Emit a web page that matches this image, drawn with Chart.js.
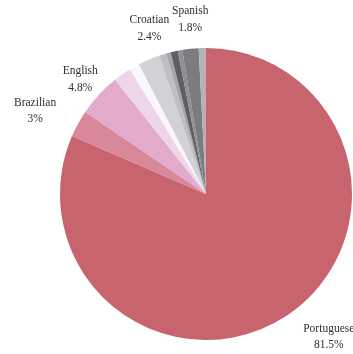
<!DOCTYPE html>
<html>
<head>
<meta charset="utf-8">
<script src="https://cdn.jsdelivr.net/npm/chart.js@4/dist/chart.umd.min.js"></script>
<style>
  html, body { margin: 0; padding: 0; background: #ffffff; }
  #wrap { width: 353px; height: 354px; }
</style>
</head>
<body>
<div id="wrap"><canvas id="c" width="353" height="354"></canvas></div>
<script>
// ---- data ----
const categories = ["Portuguese", "Brazilian", "English", "Other A", "Other B", "Croatian",
                    "Other C", "Other D", "Other E", "Other F", "Spanish", "Other G"];
const shares = [81.5, 3, 4.8, 2.0, 1.1, 2.4, 0.8, 0.5, 0.8, 0.5, 1.8, 0.8];
const shownNames = ["Portuguese", "Brazilian", "English", "", "", "Croatian",
                    "", "", "", "", "Spanish", ""];
const shownPercents = ["81.5%", "3%", "4.8%", "", "", "2.4%", "", "", "", "", "1.8%", ""];

// ---- styles ----
const sliceColors = ["#c8646e", "#d9889c", "#e2aacb", "#eed6ea", "#faf6fa", "#d2d2d6",
                     "#bfbfc3", "#a5a5aa", "#5e5e63", "#8f8f94", "#7b7b80", "#b3b3b7"];
const labelNudge = {
  "Portuguese": [22, -3],
  "Brazilian": [-14, 1],
  "English": [3, 4],
  "Croatian": [13, -5],
  "Spanish": [3, -1]
};

const outsideLabels = {
  id: 'outsideLabels',
  afterDatasetsDraw(chart) {
    const ctx = chart.ctx;
    const meta = chart.getDatasetMeta(0);
    ctx.save();
    ctx.font = '11.5px "Liberation Serif", "DejaVu Serif", serif';
    ctx.fillStyle = '#2e2e2e';
    ctx.textAlign = 'center';
    ctx.textBaseline = 'middle';
    const lineH = 16.5;
    meta.data.forEach((arc, i) => {
      const name = shownNames[i];
      if (!name) return;
      const p = arc.getProps(['x', 'y', 'startAngle', 'endAngle', 'outerRadius'], true);
      const mid = (p.startAngle + p.endAngle) / 2;
      const dx = Math.cos(mid), dy = Math.sin(mid);
      const ax = p.x + dx * (p.outerRadius + 12);
      const ay = p.y + dy * (p.outerRadius + 12);
      const lines = [name, shownPercents[i]];
      const w = Math.max(...lines.map(t => ctx.measureText(t).width));
      const halfW = w / 2, halfH = lineH * lines.length / 2;
      const nud = labelNudge[name] || [0, 0];
      const cx = ax + dx * halfW + nud[0];
      const cy = ay + dy * halfH + nud[1];
      lines.forEach((t, k) => {
        ctx.fillText(t, cx, cy - halfH + lineH * (k + 0.5));
      });
    });
    ctx.restore();
  }
};

new Chart(document.getElementById('c'), {
  type: 'pie',
  data: {
    labels: categories,
    datasets: [{
      data: shares,
      backgroundColor: sliceColors,
      borderWidth: 0
    }]
  },
  options: {
    responsive: false,
    animation: false,
    layout: { padding: { left: 60, right: 1, top: 48, bottom: 14 } },
    plugins: {
      legend: { display: false },
      tooltip: { enabled: false }
    }
  },
  plugins: [outsideLabels]
});
</script>
</body>
</html>
